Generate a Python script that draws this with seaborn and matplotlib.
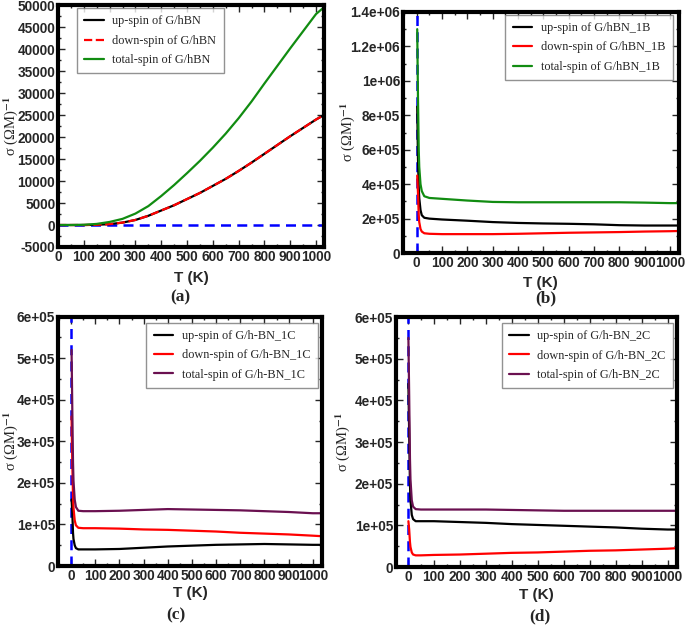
import numpy as np
import pandas as pd
import matplotlib
matplotlib.use('Agg')
import matplotlib.pyplot as plt
from matplotlib.ticker import MultipleLocator, FuncFormatter
import seaborn as sns

# --------------------
# Data
# --------------------
# (a) G/hBN
T_a = [0, 50, 100, 150, 200, 250, 300, 350, 400, 450, 500, 550, 600, 650,
       700, 750, 800, 850, 900, 950, 1000, 1030]
up_a = [0, 0, 0, 50, 200, 550, 1150, 2100, 3300, 4500, 5900, 7300, 8900,
        10500, 12300, 14200, 16200, 18200, 20200, 22100, 24000, 25000]
down_a = [0, 0, 0, 50, 200, 550, 1150, 2100, 3300, 4500, 5900, 7300, 8900,
          10500, 12300, 14200, 16200, 18200, 20200, 22100, 24000, 25000]
total_a = [0, 0, 50, 250, 700, 1400, 2600, 4300, 6600, 9100, 11800, 14600,
           17600, 20800, 24300, 28100, 32200, 36200, 40200, 44100, 48000, 49500]

# common temperature grid for the doped systems
T_doped = [2, 5, 8, 10, 15, 20, 30, 50, 100, 200, 300, 400, 500, 600, 700,
           800, 900, 1000, 1030]

# (b) G/hBN_1B
up_b = [8.5e5, 5.5e5, 3.8e5, 3.2e5, 2.5e5, 2.2e5, 2.05e5, 2.0e5, 1.95e5,
        1.88e5, 1.8e5, 1.75e5, 1.72e5, 1.7e5, 1.67e5, 1.62e5, 1.6e5, 1.6e5, 1.6e5]
down_b = [4.5e5, 3.5e5, 2.2e5, 1.8e5, 1.4e5, 1.25e5, 1.15e5, 1.12e5, 1.1e5,
          1.1e5, 1.1e5, 1.12e5, 1.15e5, 1.18e5, 1.2e5, 1.22e5, 1.25e5, 1.27e5, 1.28e5]
total_b = [1.3e6, 9.0e5, 6.0e5, 5.0e5, 4.0e5, 3.6e5, 3.3e5, 3.2e5, 3.15e5,
           3.05e5, 2.97e5, 2.95e5, 2.95e5, 2.95e5, 2.95e5, 2.95e5, 2.93e5, 2.9e5, 2.9e5]

# (c) G/h-BN_1C
up_c = [1.6e5, 1.3e5, 8.0e4, 6.5e4, 5.0e4, 4.3e4, 4.0e4, 4.0e4, 4.0e4,
        4.1e4, 4.4e4, 4.7e4, 4.9e4, 5.1e4, 5.2e4, 5.3e4, 5.2e4, 5.1e4, 5.1e4]
down_c = [3.6e5, 2.5e5, 1.7e5, 1.4e5, 1.1e5, 9.8e4, 9.2e4, 9.1e4, 9.1e4,
          9.0e4, 8.8e4, 8.7e4, 8.5e4, 8.3e4, 8.0e4, 7.8e4, 7.6e4, 7.3e4, 7.2e4]
total_c = [5.2e5, 3.8e5, 2.5e5, 2.05e5, 1.6e5, 1.42e5, 1.33e5, 1.32e5, 1.32e5,
           1.33e5, 1.35e5, 1.37e5, 1.36e5, 1.35e5, 1.34e5, 1.32e5, 1.3e5, 1.27e5, 1.27e5]

# (d) G/h-BN_2C
up_d = [4.4e5, 3.2e5, 2.0e5, 1.6e5, 1.25e5, 1.15e5, 1.1e5, 1.1e5, 1.1e5,
        1.08e5, 1.06e5, 1.03e5, 1.01e5, 9.9e4, 9.7e4, 9.5e4, 9.2e4, 9.0e4, 9.0e4]
down_d = [1.1e5, 9.0e4, 6.0e4, 4.8e4, 3.5e4, 3.0e4, 2.8e4, 2.8e4, 2.9e4,
          3.0e4, 3.2e4, 3.4e4, 3.5e4, 3.7e4, 3.9e4, 4.0e4, 4.2e4, 4.4e4, 4.5e4]
total_d = [5.5e5, 4.1e5, 2.6e5, 2.1e5, 1.6e5, 1.45e5, 1.39e5, 1.38e5, 1.38e5,
           1.38e5, 1.38e5, 1.37e5, 1.36e5, 1.35e5, 1.35e5, 1.35e5, 1.35e5, 1.35e5, 1.35e5]

# --------------------
# Style
# --------------------
sns.set_style('ticks')
plt.rcParams['font.family'] = ['Liberation Sans', 'DejaVu Sans']
plt.rcParams['font.weight'] = 'bold'
plt.rcParams['mathtext.fontset'] = 'stix'

GREEN = '#118c11'
MAROON = '#6a1050'
BLUE = '#0000ff'

fig = plt.figure(figsize=(6.85, 6.28), dpi=100)

panels = [
    dict(rect=[0.0847, 0.6067, 0.388, 0.385], T=T_a,
         ys=[up_a, down_a, total_a],
         names=['up-spin of G/hBN', 'down-spin of G/hBN', 'total-spin of G/hBN'],
         colors=['black', 'red', GREEN], loc='upper left', anchor=(0.071, 0.988),
         xlim=(0, 1030), ylim=(-5000, 50000), ymaj=5000, ymin=2500,
         letter='(a)', ylab=-0.143, xlab=-0.10, lx=180, ly=297),
    dict(rect=[0.588, 0.597, 0.403, 0.384], T=T_doped,
         ys=[up_b, down_b, total_b],
         names=['up-spin of G/hBN_1B', 'down-spin of G/hBN_1B', 'total-spin of G/hBN_1B'],
         colors=['black', 'red', GREEN], loc='upper right', anchor=(0.978, 0.988),
         xlim=(-55, 1035), ylim=(0, 1.4e6), ymaj=2e5, ymin=1e5,
         letter='(b)', ylab=-0.165, xlab=-0.095, lx=546, ly=298),
    dict(rect=[0.0847, 0.0987, 0.385, 0.397], T=T_doped,
         ys=[up_c, down_c, total_c],
         names=['up-spin of G/h-BN_1C', 'down-spin of G/h-BN_1C', 'total-spin of G/h-BN_1C'],
         colors=['black', 'red', MAROON], loc='upper right', anchor=(0.985, 0.976),
         xlim=(-54, 1037), ylim=(0, 6e5), ymaj=1e5, ymin=5e4,
         letter='(c)', ylab=-0.144, xlab=-0.08, lx=176, ly=615),
    dict(rect=[0.578, 0.0971, 0.410, 0.398], T=T_doped,
         ys=[up_d, down_d, total_d],
         names=['up-spin of G/h-BN_2C', 'down-spin of G/h-BN_2C', 'total-spin of G/h-BN_2C'],
         colors=['black', 'red', MAROON], loc='upper right', anchor=(0.986, 0.976),
         xlim=(-46, 1035), ylim=(0, 6e5), ymaj=1e5, ymin=5e4,
         letter='(d)', ylab=-0.155, xlab=-0.084, lx=540, ly=616),
]


def sci_fmt(v, pos):
    if v == 0:
        return '0'
    return '{:.2g}'.format(v)


for i, p in enumerate(panels):
    ax = fig.add_axes(p['rect'])
    df = pd.DataFrame({'T': p['T'], 'up': p['ys'][0], 'down': p['ys'][1], 'total': p['ys'][2]})

    # reference line
    if i == 0:
        ax.axhline(0, color=BLUE, lw=1.8, ls=(0, (4, 2.5)), zorder=1)
    else:
        ax.axvline(0, color=BLUE, lw=1.8, ls=(0, (4, 2.5)), zorder=1)

    sns.lineplot(data=df, x='T', y='up', ax=ax, color=p['colors'][0], lw=1.6,
                 label=p['names'][0])
    sns.lineplot(data=df, x='T', y='down', ax=ax, color=p['colors'][1], lw=1.6,
                 label=p['names'][1], ls='--' if i == 0 else '-')
    sns.lineplot(data=df, x='T', y='total', ax=ax, color=p['colors'][2], lw=1.6,
                 label=p['names'][2])

    ax.set_xlim(*p['xlim'])
    ax.set_ylim(*p['ylim'])
    ax.xaxis.set_major_locator(MultipleLocator(100))
    ax.xaxis.set_minor_locator(MultipleLocator(50))
    ax.yaxis.set_major_locator(MultipleLocator(p['ymaj']))
    ax.yaxis.set_minor_locator(MultipleLocator(p['ymin']))
    if i == 0:
        ax.yaxis.set_major_formatter(FuncFormatter(lambda v, pos: '%d' % v))
    else:
        ax.yaxis.set_major_formatter(FuncFormatter(sci_fmt))

    ax.tick_params(which='both', direction='in', top=True, right=True,
                   labelsize=9.8, pad=2)
    ax.tick_params(which='major', length=5, width=1)
    ax.tick_params(which='minor', length=2.5, width=1)
    for s in ax.spines.values():
        s.set_linewidth(3)
        s.set_color('black')

    ax.set_xlabel('T (K)', fontsize=11, fontweight='bold')
    ax.set_ylabel(r'σ (ΩM)$^{-1}$', fontsize=10.5, fontweight='normal',
                  family=['Liberation Serif'])
    ax.xaxis.set_label_coords(0.5, p['xlab'])
    ax.yaxis.set_label_coords(p['ylab'], 0.5)

    leg = ax.legend(loc=p['loc'], bbox_to_anchor=p['anchor'],
                    prop={'family': 'Liberation Serif', 'size': 8.8, 'weight': 'normal'},
                    frameon=True, fancybox=False, handlelength=1.6,
                    borderpad=0.6, labelspacing=0.6, handletextpad=0.7,
                    borderaxespad=0.0)
    leg.get_frame().set_edgecolor('#777777')
    leg.get_frame().set_linewidth(1)

    fig.text(p['lx'] / 685, 1 - p['ly'] / 628, p['letter'], ha='center', va='center',
             fontsize=12.5, fontweight='bold', family=['Liberation Serif'])

fig.savefig('out.png', dpi=100)
